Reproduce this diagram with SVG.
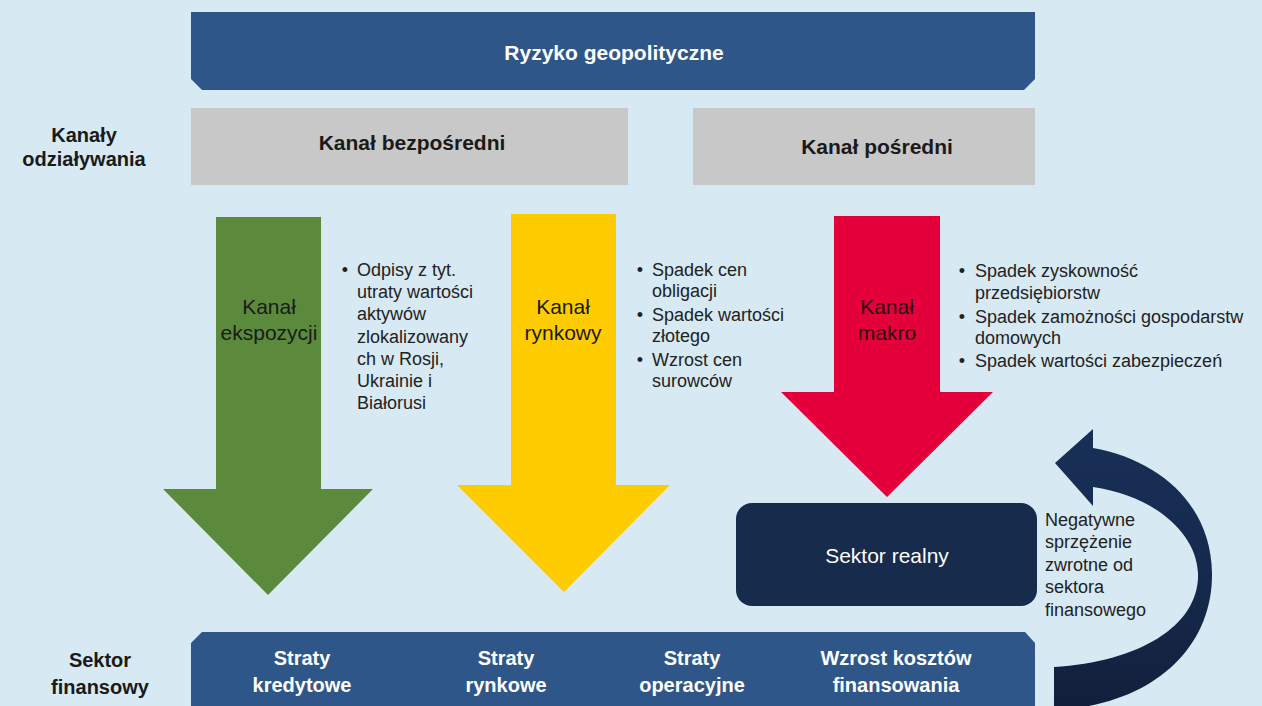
<svg xmlns="http://www.w3.org/2000/svg" width="1262" height="706" viewBox="0 0 1262 706">
  <defs>
    <style>
      .bg { fill: #d7e9f3; }
      .banner { fill: #2f5689; }
      .gray { fill: #c8c8c8; }
      .navy { fill: #172b4d; }
      .t { font-family: "Liberation Sans", Arial, sans-serif; }
      .wb { fill: #ffffff; font-weight: bold; font-size: 20px; text-anchor: middle; }
      .kb { fill: #1a1a1a; font-weight: bold; font-size: 20px; text-anchor: middle; }
      .ch { fill: #1a1a1a; font-weight: bold; font-size: 21px; text-anchor: middle; }
      .al { fill: #1a1a1a; font-size: 21px; text-anchor: middle; }
      .bl { fill: #222222; font-size: 18px; }
      .bd { fill: #222222; font-size: 18px; text-anchor: middle; }
    </style>
    <linearGradient id="fbGrad" x1="0" y1="0" x2="0" y2="1">
      <stop offset="0" stop-color="#182f57"/>
      <stop offset="0.5" stop-color="#162a4e"/>
      <stop offset="1" stop-color="#121f3b"/>
    </linearGradient>
  </defs>

  <rect class="bg" x="0" y="0" width="1262" height="706"/>

  <g id="ryzyko-geopolityczne">
    <polygon class="banner" points="191,12 1035,12 1035,79 1024,90 202,90 191,79"/>
    <text class="t wb" x="614" y="60" style="font-size:21px">Ryzyko geopolityczne</text>
  </g>

  <g id="kanaly-label">
    <text class="t kb" x="84" y="142">Kanały</text>
    <text class="t kb" x="84" y="166">odziaływania</text>
  </g>

  <g id="kanal-bezposredni">
    <rect class="gray" x="191" y="108" width="437" height="77"/>
    <text class="t ch" x="412" y="150">Kanał bezpośredni</text>
  </g>

  <g id="kanal-posredni">
    <rect class="gray" x="693" y="108" width="342" height="77"/>
    <text class="t ch" x="877" y="154">Kanał pośredni</text>
  </g>

  <g id="kanal-ekspozycji">
    <polygon fill="#5b8a3c" points="216,217 321,217 321,489 373,489 268,595 163,489 216,489"/>
    <text class="t al" x="269" y="314">Kanał</text>
    <text class="t al" x="269" y="340">ekspozycji</text>
  </g>

  <g id="opis-ekspozycji">
    <text class="t bd" x="345" y="276">•</text>
    <text class="t bl" x="357" y="276">Odpisy z tyt.</text>
    <text class="t bl" x="357" y="298">utraty wartości</text>
    <text class="t bl" x="357" y="320">aktywów</text>
    <text class="t bl" x="357" y="343">zlokalizowany</text>
    <text class="t bl" x="357" y="365">ch w Rosji,</text>
    <text class="t bl" x="357" y="387">Ukrainie i</text>
    <text class="t bl" x="357" y="409">Białorusi</text>
  </g>

  <g id="kanal-rynkowy">
    <polygon fill="#ffcc00" points="511,214 616,214 616,485 670,485 564,592 457,485 511,485"/>
    <text class="t al" x="563" y="314">Kanał</text>
    <text class="t al" x="563" y="340">rynkowy</text>
  </g>

  <g id="opis-rynkowy">
    <text class="t bd" x="640" y="276">•</text>
    <text class="t bl" x="652" y="276">Spadek cen</text>
    <text class="t bl" x="652" y="297">obligacji</text>
    <text class="t bd" x="640" y="321">•</text>
    <text class="t bl" x="652" y="321">Spadek wartości</text>
    <text class="t bl" x="652" y="342">złotego</text>
    <text class="t bd" x="640" y="366">•</text>
    <text class="t bl" x="652" y="366">Wzrost cen</text>
    <text class="t bl" x="652" y="387">surowców</text>
  </g>

  <g id="kanal-makro">
    <polygon fill="#e4003b" points="834,216 940,216 940,392 993,392 887,497 781,392 834,392"/>
    <text class="t al" x="887" y="314" style="fill:#2a0a10">Kanał</text>
    <text class="t al" x="887" y="340" style="fill:#2a0a10">makro</text>
  </g>

  <g id="opis-makro">
    <text class="t bd" x="962" y="277">•</text>
    <text class="t bl" x="975" y="277">Spadek zyskowność</text>
    <text class="t bl" x="975" y="299">przedsiębiorstw</text>
    <text class="t bd" x="962" y="323">•</text>
    <text class="t bl" x="975" y="323">Spadek zamożności gospodarstw</text>
    <text class="t bl" x="975" y="344">domowych</text>
    <text class="t bd" x="962" y="367">•</text>
    <text class="t bl" x="975" y="367">Spadek wartości zabezpieczeń</text>
  </g>

  <g id="sektor-realny">
    <rect class="navy" x="736" y="503" width="301" height="103" rx="16" ry="16"/>
    <text class="t" x="887" y="563" style="fill:#ffffff;font-size:21px;text-anchor:middle">Sektor realny</text>
  </g>

  <g id="sektor-finansowy-label">
    <text class="t kb" x="100" y="667">Sektor</text>
    <text class="t kb" x="100" y="694">finansowy</text>
  </g>

  <g id="sektor-finansowy">
    <polygon class="banner" points="202,632 1025,632 1035,643 1035,706 191,706 191,643"/>
    <text class="t wb" x="302" y="665">Straty</text>
    <text class="t wb" x="302" y="692">kredytowe</text>
    <text class="t wb" x="506" y="665">Straty</text>
    <text class="t wb" x="506" y="692">rynkowe</text>
    <text class="t wb" x="692" y="665">Straty</text>
    <text class="t wb" x="692" y="692">operacyjne</text>
    <text class="t wb" x="896" y="665">Wzrost kosztów</text>
    <text class="t wb" x="896" y="692">finansowania</text>
  </g>

  <g id="connectors">
    <path fill="url(#fbGrad)" d="M 1093 429 L 1055 463 L 1093 506 L 1093 487 C 1150 495 1196 530 1198 573 C 1200 625 1140 662 1054 667 L 1054 710 C 1150 706 1213 650 1212 573 C 1211 505 1160 460 1093 448 Z"/>
    <g id="feedback-label">
      <text class="t bl" x="1045" y="526">Negatywne</text>
      <text class="t bl" x="1045" y="548">sprzężenie</text>
      <text class="t bl" x="1045" y="571">zwrotne od</text>
      <text class="t bl" x="1045" y="593">sektora</text>
      <text class="t bl" x="1045" y="616">finansowego</text>
    </g>
  </g>
</svg>
